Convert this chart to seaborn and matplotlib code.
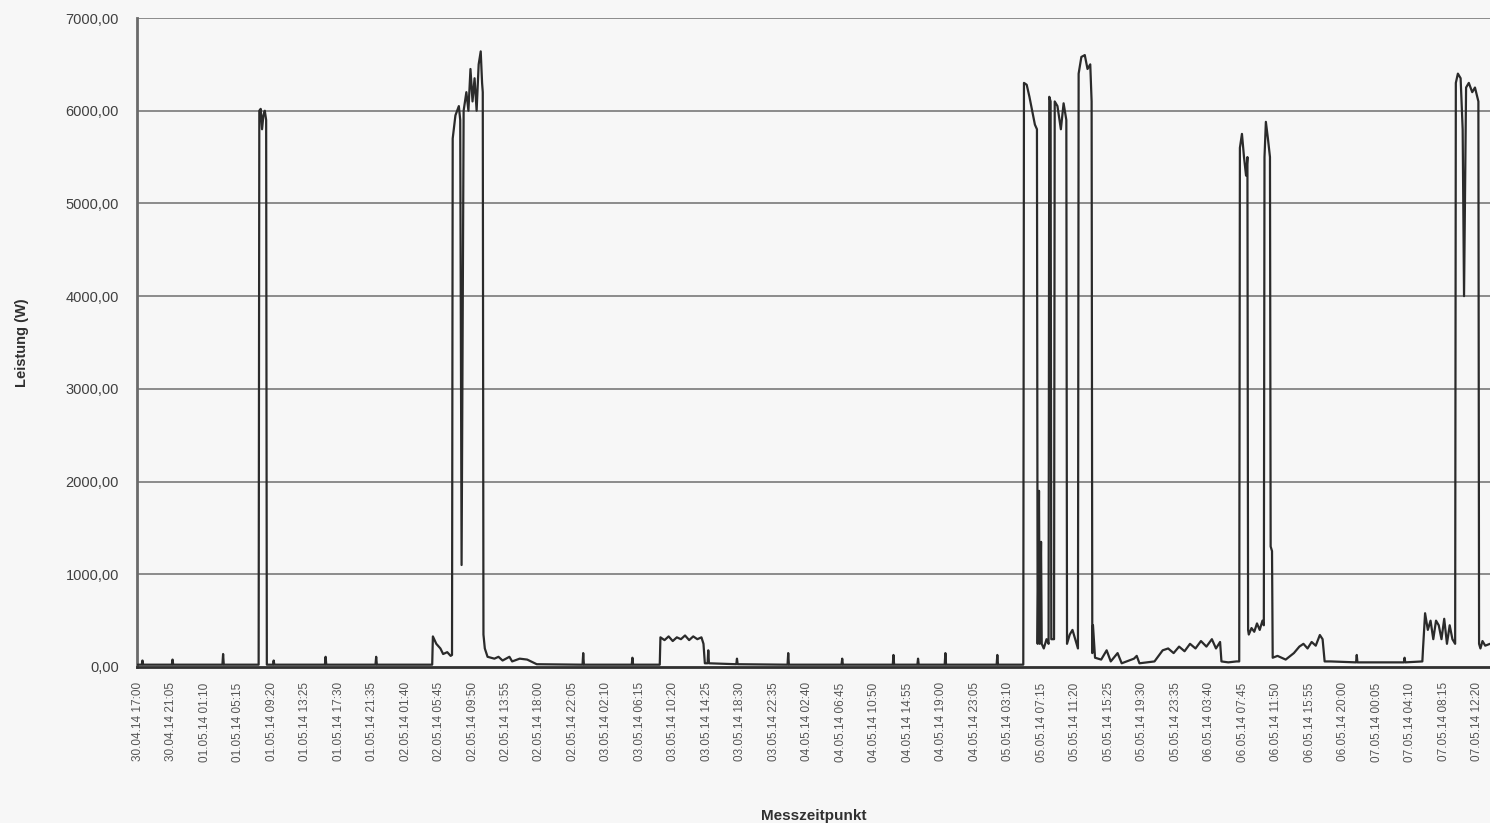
import matplotlib
matplotlib.use("Agg")
import matplotlib.pyplot as plt
import seaborn as sns
import pandas as pd

# ---------------- data ----------------
times = [
    "30.04.14 17:00", "30.04.14 17:30", "30.04.14 17:35", "30.04.14 17:40",
    "30.04.14 21:10", "30.04.14 21:15", "30.04.14 21:20",
    "01.05.14 03:20", "01.05.14 03:25", "01.05.14 03:30",
    "01.05.14 07:45", "01.05.14 07:50", "01.05.14 08:00", "01.05.14 08:10", "01.05.14 08:20",
    "01.05.14 08:30", "01.05.14 08:40", "01.05.14 08:45",
    "01.05.14 09:30", "01.05.14 09:35", "01.05.14 09:40",
    "01.05.14 15:50", "01.05.14 15:55", "01.05.14 16:00",
    "01.05.14 22:00", "01.05.14 22:05", "01.05.14 22:10",
    "02.05.14 04:55", "02.05.14 05:00", "02.05.14 05:25", "02.05.14 05:55", "02.05.14 06:15",
    "02.05.14 06:45", "02.05.14 07:10", "02.05.14 07:20",
    "02.05.14 07:25", "02.05.14 07:45", "02.05.14 08:10", "02.05.14 08:20", "02.05.14 08:30",
    "02.05.14 08:45", "02.05.14 09:05", "02.05.14 09:20", "02.05.14 09:35", "02.05.14 09:50",
    "02.05.14 10:05", "02.05.14 10:20", "02.05.14 10:35", "02.05.14 10:50", "02.05.14 11:00",
    "02.05.14 11:05", "02.05.14 11:10", "02.05.14 11:20", "02.05.14 11:40", "02.05.14 12:30",
    "02.05.14 13:00", "02.05.14 13:30", "02.05.14 14:20", "02.05.14 14:40", "02.05.14 15:35",
    "02.05.14 16:30", "02.05.14 17:40",
    "02.05.14 23:15", "02.05.14 23:20", "02.05.14 23:25",
    "03.05.14 05:15", "03.05.14 05:20", "03.05.14 05:25",
    "03.05.14 08:40", "03.05.14 08:45", "03.05.14 09:15", "03.05.14 09:45", "03.05.14 10:15",
    "03.05.14 10:45", "03.05.14 11:15", "03.05.14 11:45", "03.05.14 12:15", "03.05.14 12:45",
    "03.05.14 13:15", "03.05.14 13:45", "03.05.14 14:00", "03.05.14 14:10",
    "03.05.14 14:30", "03.05.14 14:35", "03.05.14 14:40",
    "03.05.14 18:00", "03.05.14 18:05", "03.05.14 18:10",
    "04.05.14 00:15", "04.05.14 00:20", "04.05.14 00:25",
    "04.05.14 06:50", "04.05.14 06:55", "04.05.14 07:00",
    "04.05.14 13:05", "04.05.14 13:10", "04.05.14 13:15",
    "04.05.14 16:05", "04.05.14 16:10", "04.05.14 16:15",
    "04.05.14 19:25", "04.05.14 19:30", "04.05.14 19:35",
    "05.05.14 01:45", "05.05.14 01:50", "05.05.14 01:55",
    "05.05.14 05:00", "05.05.14 05:05", "05.05.14 05:25", "05.05.14 05:45", "05.05.14 06:05",
    "05.05.14 06:25", "05.05.14 06:40", "05.05.14 06:45", "05.05.14 06:55", "05.05.14 07:00",
    "05.05.14 07:10", "05.05.14 07:15", "05.05.14 07:30", "05.05.14 07:50", "05.05.14 08:05",
    "05.05.14 08:10", "05.05.14 08:20", "05.05.14 08:25", "05.05.14 08:45", "05.05.14 08:50",
    "05.05.14 09:10", "05.05.14 09:35", "05.05.14 09:55", "05.05.14 10:15", "05.05.14 10:20",
    "05.05.14 10:40", "05.05.14 11:00", "05.05.14 11:20", "05.05.14 11:40", "05.05.14 11:45",
    "05.05.14 12:05", "05.05.14 12:30", "05.05.14 12:50", "05.05.14 13:10", "05.05.14 13:20",
    "05.05.14 13:25", "05.05.14 13:30", "05.05.14 13:45", "05.05.14 14:30", "05.05.14 15:10",
    "05.05.14 15:40", "05.05.14 16:30", "05.05.14 17:00", "05.05.14 18:30", "05.05.14 18:50",
    "05.05.14 19:10", "05.05.14 21:00", "05.05.14 22:00", "05.05.14 22:40", "05.05.14 23:20",
    "06.05.14 00:00", "06.05.14 00:40", "06.05.14 01:20", "06.05.14 02:00", "06.05.14 02:40",
    "06.05.14 03:20", "06.05.14 04:00", "06.05.14 04:30", "06.05.14 05:00", "06.05.14 05:10",
    "06.05.14 06:00", "06.05.14 07:00", "06.05.14 07:20", "06.05.14 07:25", "06.05.14 07:40",
    "06.05.14 07:55", "06.05.14 08:10", "06.05.14 08:20", "06.05.14 08:25", "06.05.14 08:30",
    "06.05.14 08:50", "06.05.14 09:10", "06.05.14 09:30", "06.05.14 09:50", "06.05.14 10:10",
    "06.05.14 10:20", "06.05.14 10:25", "06.05.14 10:35", "06.05.14 10:50", "06.05.14 11:05",
    "06.05.14 11:10", "06.05.14 11:20", "06.05.14 11:25", "06.05.14 12:00", "06.05.14 13:00",
    "06.05.14 14:00", "06.05.14 14:40", "06.05.14 15:10", "06.05.14 15:40", "06.05.14 16:10",
    "06.05.14 16:40", "06.05.14 17:10", "06.05.14 17:30", "06.05.14 17:45", "06.05.14 18:30",
    "06.05.14 21:35", "06.05.14 21:40", "06.05.14 21:45",
    "07.05.14 03:25", "07.05.14 03:30", "07.05.14 03:35",
    "07.05.14 05:40", "07.05.14 05:45", "07.05.14 06:00", "07.05.14 06:20", "07.05.14 06:40",
    "07.05.14 07:00", "07.05.14 07:20", "07.05.14 07:40", "07.05.14 08:00", "07.05.14 08:20",
    "07.05.14 08:40", "07.05.14 09:00", "07.05.14 09:20", "07.05.14 09:40", "07.05.14 09:45",
    "07.05.14 10:00", "07.05.14 10:20", "07.05.14 10:35", "07.05.14 10:45", "07.05.14 11:00",
    "07.05.14 11:20", "07.05.14 11:45", "07.05.14 12:05", "07.05.14 12:30", "07.05.14 12:35",
    "07.05.14 12:45", "07.05.14 13:00", "07.05.14 13:20", "07.05.14 13:55",
]

watts = [
    25, 25, 70, 25,
    25, 80, 25,
    25, 140, 25,
    25, 6000, 6020, 5800, 5950,
    6000, 5900, 25,
    25, 70, 25,
    25, 110, 25,
    25, 110, 25,
    25, 330, 250, 200, 140,
    160, 120, 130,
    5700, 5950, 6050, 5900, 1100,
    6000, 6200, 6000, 6450, 6100,
    6350, 6000, 6500, 6640, 6300,
    6200, 350, 200, 110, 90,
    110, 70, 110, 60, 90,
    80, 30,
    25, 150, 25,
    25, 100, 25,
    25, 320, 290, 330, 280,
    320, 300, 340, 290, 330,
    300, 320, 250, 40,
    40, 180, 40,
    30, 90, 30,
    25, 150, 25,
    25, 90, 25,
    25, 130, 25,
    25, 90, 25,
    25, 150, 25,
    25, 130, 25,
    25, 6300, 6280, 6150, 6000,
    5850, 5800, 250, 1900, 250,
    1350, 250, 200, 300, 250,
    6150, 6100, 300, 300, 6100,
    6050, 5800, 6080, 5900, 250,
    350, 400, 300, 200, 6400,
    6580, 6600, 6450, 6500, 6100,
    150, 450, 100, 80, 180,
    60, 150, 40, 90, 120,
    40, 60, 180, 200, 150,
    220, 170, 250, 200, 280,
    220, 300, 200, 270, 60,
    50, 60, 60, 5600, 5750,
    5500, 5300, 5500, 400, 350,
    420, 380, 470, 400, 500,
    450, 5500, 5880, 5700, 5500,
    1300, 1250, 100, 120, 80,
    150, 220, 250, 200, 270,
    230, 345, 300, 60, 60,
    50, 130, 50,
    50, 100, 50,
    60, 200, 580, 400, 500,
    300, 500, 450, 300, 520,
    250, 450, 300, 250, 6300,
    6400, 6350, 5800, 4000, 6250,
    6300, 6200, 6250, 6100, 250,
    200, 280, 230, 250,
]

tick_labels = [
    "30.04.14 17:00", "30.04.14 21:05", "01.05.14 01:10", "01.05.14 05:15", "01.05.14 09:20",
    "01.05.14 13:25", "01.05.14 17:30", "01.05.14 21:35", "02.05.14 01:40", "02.05.14 05:45",
    "02.05.14 09:50", "02.05.14 13:55", "02.05.14 18:00", "02.05.14 22:05", "03.05.14 02:10",
    "03.05.14 06:15", "03.05.14 10:20", "03.05.14 14:25", "03.05.14 18:30", "03.05.14 22:35",
    "04.05.14 02:40", "04.05.14 06:45", "04.05.14 10:50", "04.05.14 14:55", "04.05.14 19:00",
    "04.05.14 23:05", "05.05.14 03:10", "05.05.14 07:15", "05.05.14 11:20", "05.05.14 15:25",
    "05.05.14 19:30", "05.05.14 23:35", "06.05.14 03:40", "06.05.14 07:45", "06.05.14 11:50",
    "06.05.14 15:55", "06.05.14 20:00", "07.05.14 00:05", "07.05.14 04:10", "07.05.14 08:15",
    "07.05.14 12:20",
]

y_ticks = [0, 1000, 2000, 3000, 4000, 5000, 6000, 7000]

# ---------------- plot ----------------
fmt = "%d.%m.%y %H:%M"
df = pd.DataFrame({"Messzeitpunkt": pd.to_datetime(times, format=fmt),
                   "Leistung (W)": watts})
tick_pos = pd.to_datetime(tick_labels, format=fmt)

sns.set_theme(style="white")
plt.rcParams["font.family"] = ["Liberation Sans", "DejaVu Sans"]

bg = "#f7f7f7"
fig = plt.figure(figsize=(14.9, 8.23), dpi=100, facecolor=bg)
ax = fig.add_axes([137 / 1490, 156 / 823, (1490 - 137) / 1490, (667 - 18) / 823])
ax.set_facecolor(bg)

for v in y_ticks[1:]:
    ax.axhline(v, color="#8c8c8c", lw=1.4, zorder=1)

sns.lineplot(data=df, x="Messzeitpunkt", y="Leistung (W)", ax=ax,
             color="#2b2b2b", lw=1.6, zorder=3)

ax.set_ylim(0, 7000)
ax.set_xlim(pd.Timestamp("2014-04-30 16:55"), pd.Timestamp("2014-05-07 13:55"))
ax.set_yticks(y_ticks)
ax.set_yticklabels([f"{v},00" for v in y_ticks], fontsize=10.5, color="#404040")
ax.set_xticks(tick_pos)
ax.set_xticklabels(tick_labels, rotation=90, fontsize=8.5, color="#555555")
ax.tick_params(axis="y", length=0, pad=13)
ax.tick_params(axis="x", length=0, pad=11)

for s in ["top", "right"]:
    ax.spines[s].set_visible(False)
ax.spines["left"].set_color("#6a6a6a")
ax.spines["left"].set_linewidth(2)
ax.spines["bottom"].set_color("#303030")
ax.spines["bottom"].set_linewidth(2)

ax.set_ylabel("Leistung (W)", fontsize=10.5, fontweight="bold", color="#303030", labelpad=26)
ax.set_xlabel("Messzeitpunkt", fontsize=11, fontweight="bold", color="#303030", labelpad=34)

fig.savefig("out.png", dpi=100, facecolor=bg)
